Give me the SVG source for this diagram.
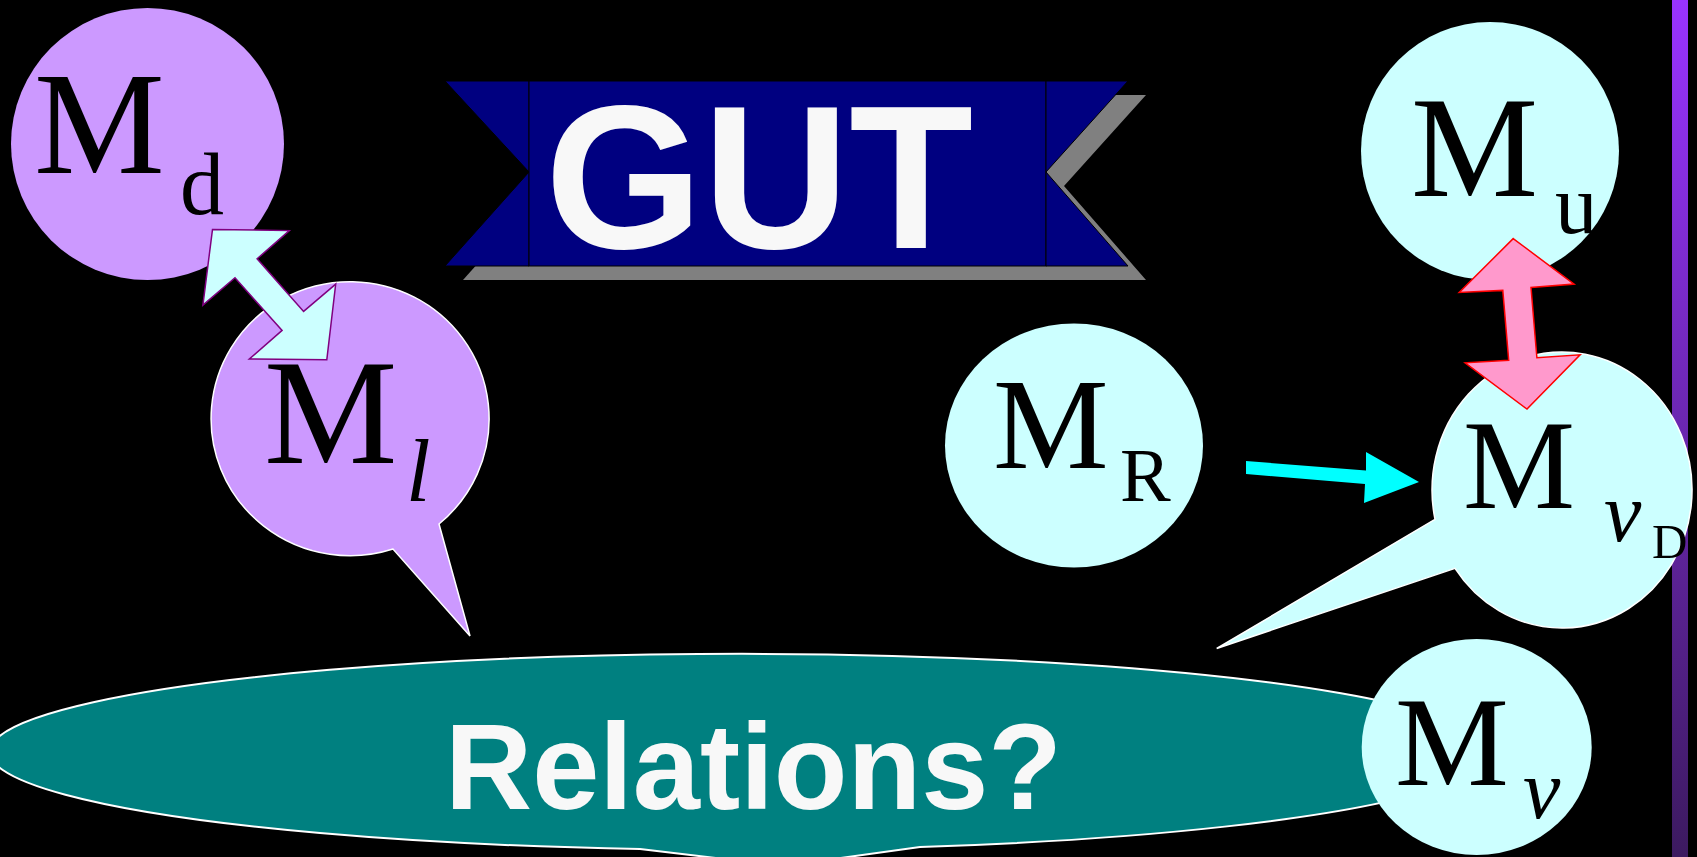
<svg xmlns="http://www.w3.org/2000/svg" width="1697" height="857" viewBox="0 0 1697 857">
<style>
.lav{fill:#cc99ff}
.cyb{fill:#ccffff}
.outl{stroke:#ffffff;stroke-width:1.5}
.ser{font-family:"Liberation Serif","Times New Roman",serif;fill:#000000}
.it{font-style:italic}
.sans{font-family:"Liberation Sans",Arial,sans-serif;font-weight:bold;fill:#f8f8f8}
.ban{fill:#000080;stroke:#000000;stroke-width:1}
.shd{fill:#808080}
</style>
<defs>
<linearGradient id="barg" x1="0" y1="0" x2="0" y2="1">
<stop offset="0" stop-color="#9933ff"/>
<stop offset="1" stop-color="#3c1a60"/>
</linearGradient>
</defs>
<rect x="0" y="0" width="1697" height="857" fill="#000000"/>
<rect id="sidebar" x="1672" y="0" width="16" height="857" fill="url(#barg)"/>

<g id="banner">
<g class="shd" transform="translate(18,14)">
<polygon points="445,81 529,81 529,172"/>
<polygon points="529,172 529,266 445,266"/>
<rect x="529" y="81" width="517" height="185"/>
<polygon points="1046,81 1128,81 1046,172 1128,266 1046,266"/>
</g>
<polygon class="ban" points="445,81 529,81 529,172"/>
<polygon class="ban" points="529,172 529,266 445,266"/>
<rect class="ban" x="529" y="81" width="517" height="185"/>
<polygon class="ban" points="1046,81 1128,81 1046,172 1128,266 1046,266"/>
<text class="sans" x="545" y="248" font-size="205" textLength="428" lengthAdjust="spacingAndGlyphs">GUT</text>
</g>

<g id="node-relations">
<path d="M 640,849 L 783,866 L 920,847 A 750 98 0 1 0 640,849 Z" fill="#008080" stroke="#ffffff" stroke-width="2"/>
<text class="sans" x="445" y="809" font-size="122" textLength="617" lengthAdjust="spacingAndGlyphs">Relations?</text>
</g>

<g id="node-Md">
<ellipse class="lav" cx="147.5" cy="144" rx="136.5" ry="136"/>
<text class="ser" x="34" y="173" font-size="147">M</text>
<text class="ser" x="180" y="214" font-size="88">d</text>
</g>

<g id="node-Ml">
<path class="lav outl" d="M 439,524 L 470,636 L 393,549 A 139 137 0 1 1 439,524 Z"/>
<text class="ser" x="264" y="463" font-size="150">M</text>
<text class="ser it" x="406" y="501" font-size="88">l</text>
</g>

<g id="node-Mu">
<ellipse class="cyb" cx="1490" cy="151" rx="129" ry="129"/>
<text class="ser" x="1411" y="196" font-size="143">M</text>
<text class="ser" x="1555" y="233" font-size="85">u</text>
</g>

<g id="node-MR">
<ellipse class="cyb" cx="1074" cy="445.5" rx="129" ry="122"/>
<text class="ser" x="993" y="468" font-size="130">M</text>
<text class="ser" x="1120" y="501" font-size="76">R</text>
</g>

<g id="node-MnuD">
<path class="cyb outl" d="M 1435,519.3 L 1216.7,648.5 L 1455,568.3 A 130 138 0 1 0 1435,519.3 Z"/>
<text class="ser" x="1463" y="508" font-size="126">M</text>
<text class="ser it" x="1604" y="541" font-size="84">ν</text>
<text class="ser" x="1652" y="558" font-size="49">D</text>
</g>

<g id="node-Mnu">
<ellipse class="cyb" cx="1476.7" cy="747" rx="115" ry="108"/>
<text class="ser" x="1395" y="785" font-size="128">M</text>
<text class="ser it" x="1523" y="818" font-size="84">ν</text>
</g>

<g id="connectors">
<polygon points="212.5,229.4 289.3,230.6 257.1,258.8 303.6,311.4 335.7,284.1 326.8,359.8 249.3,359 282.1,330.4 235,277.8 202.9,305.1" fill="#ccffff" stroke="#800080" stroke-width="1.5"/>
<polygon points="1513.2,238.6 1574.1,284.1 1531,287.5 1536.9,357.7 1580.1,354.8 1527,409.1 1465.1,362.8 1508.7,360.3 1502.8,290.4 1459.2,292.5" fill="#ff99cc" stroke="#ff0000" stroke-width="1.5"/>
<polygon points="1246,461 1366,470.5 1366,452 1419,482 1364,503 1365,484 1246,474" fill="#00ffff"/>
</g>
</svg>
